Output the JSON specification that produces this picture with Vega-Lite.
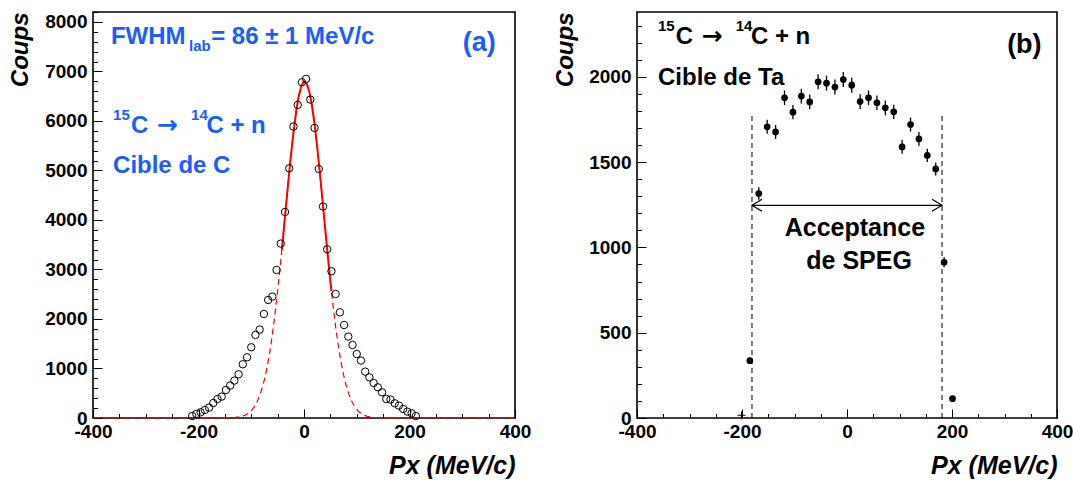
{
  "$schema": "https://vega.github.io/schema/vega-lite/v6.json",
  "padding": {"left": 7, "top": 10, "right": 0, "bottom": 0},
  "spacing": 20,
  "config": {
    "view": {"stroke": "#000", "strokeWidth": 1.6},
    "font": "Liberation Sans",
    "axis": {"grid": false, "domain": false, "labelFont": "Liberation Sans", "labelFontWeight": "bold", "labelFontSize": 19, "labelColor": "#000", "tickColor": "#000", "tickWidth": 1, "titleFont": "Liberation Sans", "titleFontWeight": "bold", "titleFontStyle": "italic", "titleColor": "#000", "labelFlush": false, "labelOverlap": false, "labelExpr": "datum.value < 0 ? '-' + abs(datum.value) : '' + datum.value"},
    "axisX": {"titleFontSize": 25},
    "axisY": {"titleFontSize": 24}
  },
  "datasets": {
    "ptsA": [
      {"px": -212, "n": 40}, {"px": -204, "n": 81}, {"px": -196, "n": 115}, {"px": -188, "n": 162}, {"px": -180, "n": 210}, {"px": -172, "n": 303}, {"px": -164, "n": 384}, {"px": -156, "n": 432}, {"px": -148, "n": 566}, {"px": -140, "n": 655}, {"px": -132, "n": 756}, {"px": -124, "n": 883}, {"px": -116, "n": 1085}, {"px": -108, "n": 1226}, {"px": -100, "n": 1428}, {"px": -92, "n": 1677}, {"px": -84, "n": 1786}, {"px": -76, "n": 2101}, {"px": -68, "n": 2384}, {"px": -60, "n": 2452}, {"px": -52, "n": 2990}, {"px": -44, "n": 3523}, {"px": -36, "n": 4162}, {"px": -28, "n": 5044}, {"px": -20, "n": 5887}, {"px": -12, "n": 6323}, {"px": -4, "n": 6782},
      {"px": 4, "n": 6849}, {"px": 12, "n": 6432}, {"px": 20, "n": 5859}, {"px": 28, "n": 5030}, {"px": 36, "n": 4271}, {"px": 44, "n": 3408}, {"px": 52, "n": 2964}, {"px": 60, "n": 2505}, {"px": 68, "n": 2135}, {"px": 76, "n": 1879}, {"px": 84, "n": 1644}, {"px": 92, "n": 1475}, {"px": 100, "n": 1293}, {"px": 108, "n": 1160}, {"px": 116, "n": 937}, {"px": 124, "n": 822}, {"px": 132, "n": 707}, {"px": 140, "n": 620}, {"px": 148, "n": 519}, {"px": 156, "n": 384}, {"px": 164, "n": 372}, {"px": 172, "n": 297}, {"px": 180, "n": 250}, {"px": 188, "n": 182}, {"px": 196, "n": 129}, {"px": 204, "n": 95}, {"px": 212, "n": 40}
    ],
    "gauss": [
      {"px": -400, "f": 0}, {"px": -300, "f": 0}, {"px": -200, "f": 0}, {"px": -160, "f": 0.4}, {"px": -150, "f": 1.3}, {"px": -140, "f": 3.9}, {"px": -130, "f": 10.8}, {"px": -120, "f": 28}, {"px": -115, "f": 44}, {"px": -110, "f": 67}, {"px": -105, "f": 100}, {"px": -100, "f": 148}, {"px": -95, "f": 214}, {"px": -90, "f": 304}, {"px": -85, "f": 424}, {"px": -80, "f": 580}, {"px": -75, "f": 778}, {"px": -70, "f": 1026}, {"px": -65, "f": 1326}, {"px": -60, "f": 1683}, {"px": -55, "f": 2096}, {"px": -50, "f": 2562}, {"px": -45, "f": 3074}, {"px": -42, "f": 3397}, {"px": -40, "f": 3618}, {"px": -35, "f": 4181}, {"px": -30, "f": 4741}, {"px": -25, "f": 5276}, {"px": -20, "f": 5763}, {"px": -15, "f": 6177}, {"px": -10, "f": 6498}, {"px": -5, "f": 6709}, {"px": 0, "f": 6797}, {"px": 5, "f": 6759}, {"px": 10, "f": 6596}, {"px": 15, "f": 6318}, {"px": 20, "f": 5938}, {"px": 25, "f": 5478}, {"px": 30, "f": 4959}, {"px": 35, "f": 4406}, {"px": 40, "f": 3843}, {"px": 45, "f": 3288}, {"px": 50, "f": 2761}, {"px": 52, "f": 2562}, {"px": 55, "f": 2276}, {"px": 60, "f": 1841}, {"px": 65, "f": 1462}, {"px": 70, "f": 1139}, {"px": 75, "f": 871}, {"px": 80, "f": 654}, {"px": 85, "f": 482}, {"px": 90, "f": 348}, {"px": 95, "f": 247}, {"px": 100, "f": 172}, {"px": 105, "f": 117}, {"px": 110, "f": 79}, {"px": 115, "f": 52}, {"px": 120, "f": 33}, {"px": 130, "f": 13}, {"px": 140, "f": 5}, {"px": 150, "f": 1.6}, {"px": 160, "f": 0.6}, {"px": 200, "f": 0}, {"px": 300, "f": 0}, {"px": 400, "f": 0}
    ],
    "txtA": [
      {"px": -366, "y": 7560, "t": "FWHM", "role": "main"},
      {"px": -218, "y": 7420, "t": "lab", "role": "small"},
      {"px": -176, "y": 7560, "t": "= 86 ± 1 MeV/c", "role": "main"},
      {"px": 301, "y": 7420, "t": "(a)", "role": "big"},
      {"px": -362, "y": 6014, "t": "15", "role": "small"},
      {"px": -328, "y": 5752, "t": "C", "role": "main"},
      {"px": -279, "y": 5752, "t": "→", "role": "arrow"},
      {"px": -214, "y": 6014, "t": "14", "role": "small"},
      {"px": -185, "y": 5752, "t": "C + n", "role": "main"},
      {"px": -362, "y": 4943, "t": "Cible de C", "role": "main"}
    ],
    "ptsB": [
      {"px": -185, "n": 336, "lo": 318, "hi": 354}, {"px": -168, "n": 1316, "lo": 1280, "hi": 1352}, {"px": -152, "n": 1707, "lo": 1666, "hi": 1748}, {"px": -136, "n": 1677, "lo": 1636, "hi": 1718}, {"px": -119, "n": 1877, "lo": 1834, "hi": 1920}, {"px": -103, "n": 1793, "lo": 1751, "hi": 1835}, {"px": -87, "n": 1887, "lo": 1844, "hi": 1930}, {"px": -71, "n": 1853, "lo": 1810, "hi": 1896}, {"px": -55, "n": 1971, "lo": 1927, "hi": 2015}, {"px": -39, "n": 1963, "lo": 1919, "hi": 2007}, {"px": -23, "n": 1940, "lo": 1896, "hi": 1984}, {"px": -7, "n": 1984, "lo": 1940, "hi": 2028},
      {"px": 9, "n": 1951, "lo": 1907, "hi": 1995}, {"px": 25, "n": 1855, "lo": 1812, "hi": 1898}, {"px": 41, "n": 1877, "lo": 1834, "hi": 1920}, {"px": 57, "n": 1848, "lo": 1805, "hi": 1891}, {"px": 73, "n": 1818, "lo": 1775, "hi": 1861}, {"px": 89, "n": 1795, "lo": 1753, "hi": 1837}, {"px": 105, "n": 1589, "lo": 1549, "hi": 1629}, {"px": 121, "n": 1720, "lo": 1679, "hi": 1761}, {"px": 137, "n": 1636, "lo": 1596, "hi": 1676}, {"px": 153, "n": 1539, "lo": 1500, "hi": 1578}, {"px": 169, "n": 1460, "lo": 1422, "hi": 1498}, {"px": 185, "n": 913, "lo": 883, "hi": 943}, {"px": 201, "n": 113, "lo": 102, "hi": 124}
    ],
    "cutB": [{"px": -181, "y0": 0, "y1": 1783}, {"px": 181, "y0": 0, "y1": 1783}],
    "arrowB": [{"xa": -181, "xb": 181, "y": 1247}],
    "crossB": [{"px": -201, "n": 16}],
    "txtB": [
      {"px": -360, "y": 2268, "t": "15", "role": "small"},
      {"px": -326, "y": 2190, "t": "C", "role": "main"},
      {"px": -277, "y": 2190, "t": "→", "role": "arrow"},
      {"px": -212, "y": 2268, "t": "14", "role": "small"},
      {"px": -183, "y": 2190, "t": "C + n", "role": "main"},
      {"px": -360, "y": 1951, "t": "Cible de Ta", "role": "main"},
      {"px": 305, "y": 2141, "t": "(b)", "role": "big"},
      {"px": 15, "y": 1067, "t": "Acceptance", "role": "center"},
      {"px": 23, "y": 874, "t": "de SPEG", "role": "center"}
    ]
  },
  "hconcat": [
    {
      "width": 422,
      "height": 406,
      "resolve": {"axis": {"x": "independent", "y": "independent"}},
      "layer": [
        {
          "data": {"name": "gauss"},
          "mark": {"type": "line", "color": "#ff0000", "strokeWidth": 1.2, "strokeDash": [6, 4]},
          "encoding": {
            "x": {"field": "px", "type": "quantitative", "scale": {"domain": [-400, 400], "nice": false},
                  "axis": {"orient": "bottom", "values": [-400, -200, 0, 200, 400], "ticks": false, "labelPadding": 4, "title": "Px (MeV/c)", "titleAnchor": "end", "titlePadding": 12}},
            "y": {"field": "f", "type": "quantitative", "scale": {"domain": [0, 8200], "nice": false},
                  "axis": {"orient": "left", "values": [0, 1000, 2000, 3000, 4000, 5000, 6000, 7000, 8000], "ticks": false, "labelPadding": 6, "title": "Coups", "titleAnchor": "end", "titlePadding": 12}}
          }
        },
        {
          "data": {"name": "gauss"},
          "transform": [{"filter": "datum.px >= -42 && datum.px <= 52"}],
          "mark": {"type": "line", "color": "#ff0000", "strokeWidth": 2},
          "encoding": {
            "x": {"field": "px", "type": "quantitative", "scale": {"domain": [-400, 400], "nice": false},
                  "axis": {"orient": "bottom", "values": [-400, -200, 0, 200, 400], "labels": false, "tickSize": -9, "title": null}},
            "y": {"field": "f", "type": "quantitative", "scale": {"domain": [0, 8200], "nice": false},
                  "axis": {"orient": "left", "values": [0, 1000, 2000, 3000, 4000, 5000, 6000, 7000, 8000], "labels": false, "tickSize": -9, "title": null}}
          }
        },
        {
          "data": {"name": "ptsA"},
          "mark": {"type": "point", "shape": "circle", "filled": false, "stroke": "#000", "strokeWidth": 1, "size": 55, "opacity": 1},
          "encoding": {
            "x": {"field": "px", "type": "quantitative", "scale": {"domain": [-400, 400], "nice": false},
                  "axis": {"orient": "bottom", "values": [-350, -300, -250, -150, -100, -50, 50, 100, 150, 250, 300, 350], "labels": false, "tickSize": -4.5, "title": null}},
            "y": {"field": "n", "type": "quantitative", "scale": {"domain": [0, 8200], "nice": false},
                  "axis": {"orient": "left", "values": [200, 400, 600, 800, 1200, 1400, 1600, 1800, 2200, 2400, 2600, 2800, 3200, 3400, 3600, 3800, 4200, 4400, 4600, 4800, 5200, 5400, 5600, 5800, 6200, 6400, 6600, 6800, 7200, 7400, 7600, 7800, 8200], "labels": false, "tickSize": -4.5, "title": null}}
          }
        },
        {
          "data": {"name": "txtA"},
          "transform": [{"filter": "datum.role === 'main'"}],
          "mark": {"type": "text", "align": "left", "baseline": "alphabetic", "font": "Liberation Sans", "fontWeight": "bold", "fontSize": 24, "color": "#1a5cff"},
          "encoding": {
            "x": {"field": "px", "type": "quantitative", "scale": {"domain": [-400, 400], "nice": false}, "axis": null},
            "y": {"field": "y", "type": "quantitative", "scale": {"domain": [0, 8200], "nice": false}, "axis": null},
            "text": {"field": "t"}
          }
        },
        {
          "data": {"name": "txtA"},
          "transform": [{"filter": "datum.role === 'arrow'"}],
          "mark": {"type": "text", "align": "left", "baseline": "alphabetic", "font": "DejaVu Sans", "fontWeight": "bold", "fontSize": 25, "color": "#1a5cff"},
          "encoding": {
            "x": {"field": "px", "type": "quantitative", "scale": {"domain": [-400, 400], "nice": false}, "axis": null},
            "y": {"field": "y", "type": "quantitative", "scale": {"domain": [0, 8200], "nice": false}, "axis": null},
            "text": {"field": "t"}
          }
        },
        {
          "data": {"name": "txtA"},
          "transform": [{"filter": "datum.role === 'small'"}],
          "mark": {"type": "text", "align": "left", "baseline": "alphabetic", "font": "Liberation Sans", "fontWeight": "bold", "fontSize": 15, "color": "#1a5cff"},
          "encoding": {
            "x": {"field": "px", "type": "quantitative", "scale": {"domain": [-400, 400], "nice": false}, "axis": null},
            "y": {"field": "y", "type": "quantitative", "scale": {"domain": [0, 8200], "nice": false}, "axis": null},
            "text": {"field": "t"}
          }
        },
        {
          "data": {"name": "txtA"},
          "transform": [{"filter": "datum.role === 'big'"}],
          "mark": {"type": "text", "align": "left", "baseline": "alphabetic", "font": "Liberation Sans", "fontWeight": "bold", "fontSize": 27, "color": "#1a5cff"},
          "encoding": {
            "x": {"field": "px", "type": "quantitative", "scale": {"domain": [-400, 400], "nice": false}, "axis": null},
            "y": {"field": "y", "type": "quantitative", "scale": {"domain": [0, 8200], "nice": false}, "axis": null},
            "text": {"field": "t"}
          }
        }
      ]
    },
    {
      "width": 420,
      "height": 406,
      "resolve": {"axis": {"x": "independent", "y": "independent"}},
      "layer": [
        {
          "data": {"name": "ptsB"},
          "mark": {"type": "rule", "color": "#000", "strokeWidth": 1.3},
          "encoding": {
            "x": {"field": "px", "type": "quantitative", "scale": {"domain": [-400, 400], "nice": false},
                  "axis": {"orient": "bottom", "values": [-400, -200, 0, 200, 400], "ticks": false, "labelPadding": 4, "title": "Px (MeV/c)", "titleAnchor": "end", "titlePadding": 12}},
            "y": {"field": "lo", "type": "quantitative", "scale": {"domain": [0, 2380], "nice": false},
                  "axis": {"orient": "left", "values": [0, 500, 1000, 1500, 2000], "ticks": false, "labelPadding": 6, "title": "Coups", "titleAnchor": "end", "titlePadding": 11}},
            "y2": {"field": "hi"}
          }
        },
        {
          "data": {"name": "cutB"},
          "mark": {"type": "rule", "color": "#000", "strokeWidth": 1, "strokeDash": [5, 4]},
          "encoding": {
            "x": {"field": "px", "type": "quantitative", "scale": {"domain": [-400, 400], "nice": false},
                  "axis": {"orient": "bottom", "values": [-400, -200, 0, 200, 400], "labels": false, "tickSize": -9, "title": null}},
            "y": {"field": "y0", "type": "quantitative", "scale": {"domain": [0, 2380], "nice": false},
                  "axis": {"orient": "left", "values": [0, 500, 1000, 1500, 2000], "labels": false, "tickSize": -9, "title": null}},
            "y2": {"field": "y1"}
          }
        },
        {
          "data": {"name": "ptsB"},
          "mark": {"type": "point", "shape": "circle", "filled": true, "color": "#000", "size": 45, "opacity": 1},
          "encoding": {
            "x": {"field": "px", "type": "quantitative", "scale": {"domain": [-400, 400], "nice": false},
                  "axis": {"orient": "bottom", "values": [-350, -300, -250, -150, -100, -50, 50, 100, 150, 250, 300, 350], "labels": false, "tickSize": -4.5, "title": null}},
            "y": {"field": "n", "type": "quantitative", "scale": {"domain": [0, 2380], "nice": false},
                  "axis": {"orient": "left", "values": [100, 200, 300, 400, 600, 700, 800, 900, 1100, 1200, 1300, 1400, 1600, 1700, 1800, 1900, 2100, 2200, 2300], "labels": false, "tickSize": -4.5, "title": null}}
          }
        },
        {
          "data": {"name": "crossB"},
          "mark": {"type": "point", "shape": "M-1,0H1M0,-1V1", "filled": false, "stroke": "#000", "strokeWidth": 1, "size": 64, "opacity": 1},
          "encoding": {
            "x": {"field": "px", "type": "quantitative", "scale": {"domain": [-400, 400], "nice": false}, "axis": null},
            "y": {"field": "n", "type": "quantitative", "scale": {"domain": [0, 2380], "nice": false}, "axis": null}
          }
        },
        {
          "data": {"name": "arrowB"},
          "mark": {"type": "rule", "color": "#000", "strokeWidth": 1.2},
          "encoding": {
            "x": {"field": "xa", "type": "quantitative", "scale": {"domain": [-400, 400], "nice": false}, "axis": null},
            "x2": {"field": "xb"},
            "y": {"field": "y", "type": "quantitative", "scale": {"domain": [0, 2380], "nice": false}, "axis": null}
          }
        },
        {
          "data": {"name": "arrowB"},
          "mark": {"type": "point", "shape": "M1,-0.6L0,0L1,0.6", "filled": false, "stroke": "#000", "strokeWidth": 1.2, "size": 400, "opacity": 1},
          "encoding": {
            "x": {"field": "xa", "type": "quantitative", "scale": {"domain": [-400, 400], "nice": false}, "axis": null},
            "y": {"field": "y", "type": "quantitative", "scale": {"domain": [0, 2380], "nice": false}, "axis": null}
          }
        },
        {
          "data": {"name": "arrowB"},
          "mark": {"type": "point", "shape": "M-1,-0.6L0,0L-1,0.6", "filled": false, "stroke": "#000", "strokeWidth": 1.2, "size": 400, "opacity": 1},
          "encoding": {
            "x": {"field": "xb", "type": "quantitative", "scale": {"domain": [-400, 400], "nice": false}, "axis": null},
            "y": {"field": "y", "type": "quantitative", "scale": {"domain": [0, 2380], "nice": false}, "axis": null}
          }
        },
        {
          "data": {"name": "txtB"},
          "transform": [{"filter": "datum.role === 'main'"}],
          "mark": {"type": "text", "align": "left", "baseline": "alphabetic", "font": "Liberation Sans", "fontWeight": "bold", "fontSize": 24, "color": "#000"},
          "encoding": {
            "x": {"field": "px", "type": "quantitative", "scale": {"domain": [-400, 400], "nice": false}, "axis": null},
            "y": {"field": "y", "type": "quantitative", "scale": {"domain": [0, 2380], "nice": false}, "axis": null},
            "text": {"field": "t"}
          }
        },
        {
          "data": {"name": "txtB"},
          "transform": [{"filter": "datum.role === 'arrow'"}],
          "mark": {"type": "text", "align": "left", "baseline": "alphabetic", "font": "DejaVu Sans", "fontWeight": "bold", "fontSize": 25, "color": "#000"},
          "encoding": {
            "x": {"field": "px", "type": "quantitative", "scale": {"domain": [-400, 400], "nice": false}, "axis": null},
            "y": {"field": "y", "type": "quantitative", "scale": {"domain": [0, 2380], "nice": false}, "axis": null},
            "text": {"field": "t"}
          }
        },
        {
          "data": {"name": "txtB"},
          "transform": [{"filter": "datum.role === 'small'"}],
          "mark": {"type": "text", "align": "left", "baseline": "alphabetic", "font": "Liberation Sans", "fontWeight": "bold", "fontSize": 15, "color": "#000"},
          "encoding": {
            "x": {"field": "px", "type": "quantitative", "scale": {"domain": [-400, 400], "nice": false}, "axis": null},
            "y": {"field": "y", "type": "quantitative", "scale": {"domain": [0, 2380], "nice": false}, "axis": null},
            "text": {"field": "t"}
          }
        },
        {
          "data": {"name": "txtB"},
          "transform": [{"filter": "datum.role === 'big'"}],
          "mark": {"type": "text", "align": "left", "baseline": "alphabetic", "font": "Liberation Sans", "fontWeight": "bold", "fontSize": 27, "color": "#000"},
          "encoding": {
            "x": {"field": "px", "type": "quantitative", "scale": {"domain": [-400, 400], "nice": false}, "axis": null},
            "y": {"field": "y", "type": "quantitative", "scale": {"domain": [0, 2380], "nice": false}, "axis": null},
            "text": {"field": "t"}
          }
        },
        {
          "data": {"name": "txtB"},
          "transform": [{"filter": "datum.role === 'center'"}],
          "mark": {"type": "text", "align": "center", "baseline": "alphabetic", "font": "Liberation Sans", "fontWeight": "bold", "fontSize": 25, "color": "#000"},
          "encoding": {
            "x": {"field": "px", "type": "quantitative", "scale": {"domain": [-400, 400], "nice": false}, "axis": null},
            "y": {"field": "y", "type": "quantitative", "scale": {"domain": [0, 2380], "nice": false}, "axis": null},
            "text": {"field": "t"}
          }
        }
      ]
    }
  ]
}
